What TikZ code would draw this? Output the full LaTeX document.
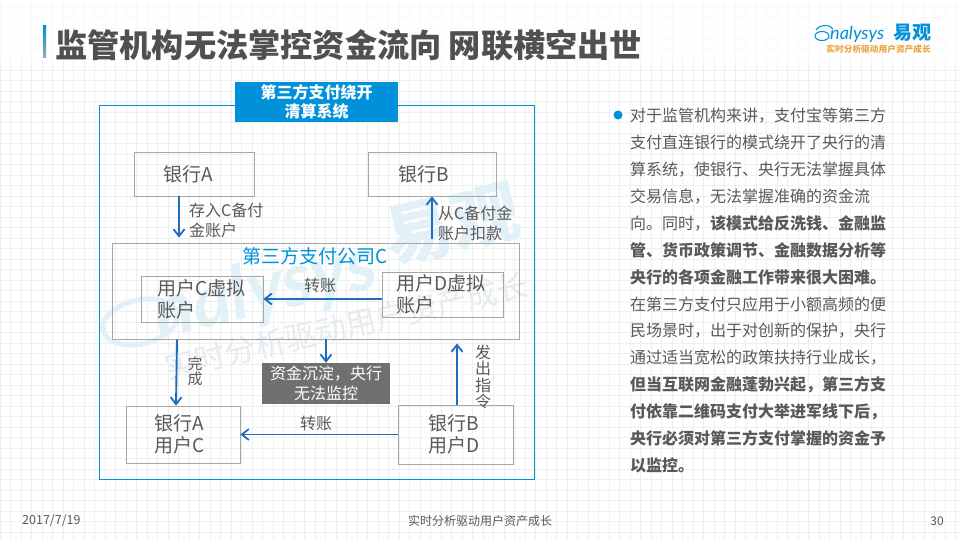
\documentclass[tikz,border=0pt]{standalone}
\usepackage{fontspec}
\usepackage{xcolor}
\usepackage{tikz}
\usetikzlibrary{arrows.meta, positioning}
\setmainfont{Noto Sans CJK SC}
\newfontfamily\logofont{Lato}
\newcommand{\cnc}{\char"FF0C\relax}
\definecolor{analysysblue}{RGB}{0, 145, 218}
\definecolor{linkblue}{RGB}{31, 108, 190}
\definecolor{boxgray}{RGB}{166, 166, 166}
\definecolor{textgray}{RGB}{89, 89, 89}
\definecolor{fundgray}{RGB}{112, 112, 112}
\definecolor{gridgray}{RGB}{238, 240, 240}
\definecolor{markblue}{RGB}{226, 240, 248}
\definecolor{markgray}{RGB}{229, 235, 239}
\definecolor{logoorange}{RGB}{235, 165, 70}
\tikzset{
    bankbox/.style={draw=boxgray, line width=0.8pt, text=textgray, font=\fontsize{19}{22}\selectfont, align=left, inner sep=0pt},
    flow/.style={draw=linkblue, line width=1.9pt, -{Straight Barb[length=7pt, width=11pt, line width=1.8pt]}},
    flowtext/.style={text=textgray, font=\fontsize{16}{20}\selectfont, align=left, inner sep=0pt},
    watermark/.style={inner sep=0pt, rotate=13},
}

\begin{document}
\begin{tikzpicture}[x=1pt, y=-1pt]
    \useasboundingbox (0,0) rectangle (960,540);
    % Paper grid
    \fill[white] (0,0) rectangle (960,540);
    \foreach \x in {0,10.5,...,960} {
        \draw[gridgray, line width=0.6pt] (\x, 60) -- (\x, 540);
        \draw[gridgray!40, line width=0.5pt] (\x, 0) -- (\x, 60);
    }
    \foreach \y in {70,80.5,...,540} {
        \draw[gridgray, line width=0.6pt] (0, \y) -- (960, \y);
    }
    \foreach \y in {7,17.5,...,60} {
        \draw[gridgray!40, line width=0.5pt] (0, \y) -- (960, \y);
    }
    % Watermark
    \node[watermark, text=markblue, font=\logofont\bfseries\itshape\fontsize{74}{74}\selectfont] (marklogo) at (265,292) {nalysys};
    \node[watermark, text=markblue, font=\bfseries\fontsize{68}{68}\selectfont] (markname) at (452,225) {易观};
    \node[watermark, text=markgray, font=\fontsize{31}{31}\selectfont] (marktag) at (346,326) {实时分析驱动用户资产成长};
    \draw[markblue, line width=5pt, rotate around={13:(140,322)}] (140,322) ellipse (38 and 22);
    % Title
    \shade[top color=analysysblue, bottom color=gray!70] (43,26) rectangle (46,58);
    \node[anchor=west, inner sep=0pt, text=textgray!90!black, font=\bfseries\fontsize{32.2}{36}\selectfont] (title) at (55,45)
        {监管机构无法掌控资金流向 网联横空出世};
    % Logo
    \draw[analysysblue, line width=1.1pt] (816,30) .. controls (820,24) and (830,24) .. (833,29);
    \draw[analysysblue, line width=1.1pt] (822,36) ellipse (7 and 4.5);
    \node[anchor=west, inner sep=0pt, text=analysysblue, font=\logofont\itshape\fontsize{18}{20}\selectfont] (lognalysys) at (830,34) {nalysys};
    \node[anchor=west, inner sep=0pt, text=analysysblue, font=\bfseries\fontsize{19}{20}\selectfont] (logoname) at (893,33) {易观};
    \node[anchor=east, inner sep=0pt, text=logoorange, font=\bfseries\fontsize{8.7}{10}\selectfont] (logotag) at (931,49) {实时分析驱动用户资产成长};
    % Outer frame and its heading
    \draw[analysysblue, line width=0.9pt] (99,105.5) rectangle (534,479);
    \node[fill=analysysblue, text=white, font=\bfseries\fontsize{16}{19.5}\selectfont, align=center, minimum width=163pt, minimum height=40pt, inner sep=0pt] (heading) at (316.5,102) {第三方支付绕开\\清算系统};
    % Boxes
    \node[bankbox, minimum width=120pt, minimum height=44pt, text width=62pt] (bankA) at (194,174) {银行A};
    \node[bankbox, minimum width=128pt, minimum height=44pt, text width=68pt] (bankB) at (432,174) {银行B};
    \node[draw=boxgray, line width=0.8pt, minimum width=407pt, minimum height=96pt, inner sep=0pt] (payC) at (315.5,291) {};
    \node[anchor=north, inner sep=0pt, text=analysysblue, font=\fontsize{19}{21}\selectfont] (payname) at (315,247) {第三方支付公司C};
    \node[bankbox, minimum width=122pt, minimum height=46pt, text width=90pt] (userC) at (202,299) {用户C虚拟\\账户};
    \node[bankbox, minimum width=121pt, minimum height=45pt, text width=93pt] (userD) at (442.5,294.5) {用户D虚拟\\账户};
    \node[fill=fundgray, text=white, font=\fontsize{16}{20}\selectfont, align=center, minimum width=128pt, minimum height=41pt, inner sep=0pt] (fund) at (326,383.5) {资金沉淀\cnc 央行\\无法监控};
    \node[bankbox, minimum width=114pt, minimum height=57pt, text width=58pt] (holderA) at (183,434.5) {银行A\\用户C};
    \node[bankbox, minimum width=115pt, minimum height=59pt, text width=55pt] (holderB) at (455.5,434.5) {银行B\\用户D};
    % Connectors
    \draw[flow] ([xshift=-15pt]bankA.south) -- ([xshift=-15pt,yshift=5pt]bankA.south |- payC.north);
    \draw[flow] ([yshift=4pt]bankB.south |- payC.north) -- (bankB.south);
    \draw[flow] (userD.west |- userC.east) -- (userC.east);
    \draw[flow] (fund.north |- payC.south) -- (fund.north);
    \draw[flow] ([xshift=-6pt]holderA.north |- payC.south) -- ([xshift=-7pt]holderA.north);
    \draw[flow] ([xshift=1.5pt]holderB.north) -- ([xshift=1.5pt,yshift=-4pt]holderB.north |- payC.south);
    \draw[flow] (holderB.west) -- (holderA.east);
    % Connector labels
    \node[flowtext, anchor=west] (savelabel) at (189,220) {存入C备付\\金账户};
    \node[flowtext, anchor=west] (takelabel) at (438,223) {从C备付金\\账户扣款};
    \node[flowtext] (movelabel) at (320,285) {转账};
    \node[flowtext, font=\fontsize{15}{15}\selectfont] (donelabel) at (195,371) {完\\成};
    \node[flowtext] (paylabel) at (316,423) {转账};
    \node[flowtext, font=\fontsize{16}{16.3}\selectfont] (orderlabel) at (483,377) {发\\出\\指\\令};
    % Side text
    \fill[analysysblue] (618,115) circle (4.5);
    \node[anchor=north west, inner sep=0pt, text=textgray, font=\fontsize{16}{26.9}\selectfont, align=left] (sidetext) at (630,108) {%
        对于监管机构来讲\cnc 支付宝等第三方\\
        支付直连银行的模式绕开了央行的清\\
        算系统\cnc 使银行、央行无法掌握具体\\
        交易信息\cnc 无法掌握准确的资金流\\
        向。同时\cnc {\bfseries 该模式给反洗钱、金融监}\\
        {\bfseries 管、货币政策调节、金融数据分析等}\\
        {\bfseries 央行的各项金融工作带来很大困难。}\\
        在第三方支付只应用于小额高频的便\\
        民场景时\cnc 出于对创新的保护\cnc 央行\\
        通过适当宽松的政策扶持行业成长\cnc\\
        {\bfseries 但当互联网金融蓬勃兴起\cnc 第三方支}\\
        {\bfseries 付依靠二维码支付大举进军线下后\cnc}\\
        {\bfseries 央行必须对第三方支付掌握的资金予}\\
        {\bfseries 以监控。}};
    % Footer
    \node[anchor=west, inner sep=0pt, text=textgray, font=\fontsize{12.5}{14}\selectfont] (datetext) at (22,521) {2017/7/19};
    \node[inner sep=0pt, text=textgray, font=\fontsize{12}{14}\selectfont] (slogantext) at (480,521) {实时分析驱动用户资产成长};
    \node[anchor=east, inner sep=0pt, text=textgray, font=\fontsize{12}{14}\selectfont] (pagetext) at (944,521) {30};
\end{tikzpicture}
\end{document}
